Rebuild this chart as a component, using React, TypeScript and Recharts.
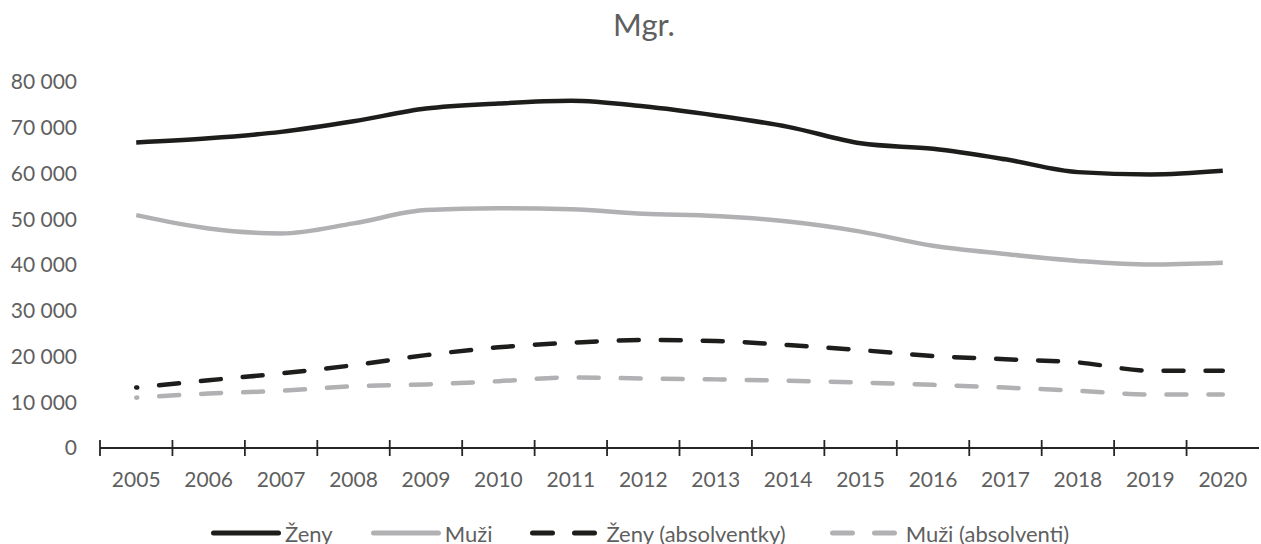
import React from "react";
import { LineChart, Line, XAxis, YAxis, Legend } from "recharts";

const years = [2005, 2006, 2007, 2008, 2009, 2010, 2011, 2012, 2013, 2014, 2015, 2016, 2017, 2018, 2019, 2020];
const zeny = [66800, 67700, 69100, 71400, 74200, 75300, 75900, 74700, 72700, 70200, 66600, 65400, 63100, 60300, 59800, 60600];
const muzi = [50900, 48000, 46900, 49100, 52000, 52400, 52200, 51200, 50700, 49500, 47300, 44200, 42400, 40900, 40100, 40500];
const zenyAbs = [13200, 14800, 16300, 18100, 20300, 22000, 23000, 23600, 23400, 22500, 21400, 20100, 19400, 18700, 16900, 16900];
const muziAbs = [11000, 11900, 12500, 13500, 13900, 14600, 15400, 15200, 15000, 14700, 14300, 13800, 13200, 12500, 11700, 11700];
const yTicks = [0, 10000, 20000, 30000, 40000, 50000, 60000, 70000, 80000];

const FONT = "Lato, 'Open Sans', sans-serif";
const TEXT = "#5f5f5f";
const BLACK = "#1d1d1b";
const GRAY = "#b1b1b4";
const AXIS = "#262626";
const DASH = "20 22";

const data = years.map((year, i) => ({
  year,
  zeny: zeny[i],
  muzi: muzi[i],
  zenyAbs: zenyAbs[i],
  muziAbs: muziAbs[i],
}));

// labels on the years, tick marks between them
const xTicks: number[] = [];
years.forEach((y) => {
  xTicks.push(y - 0.5, y);
});

const legendItems = [
  { label: "Ženy", color: BLACK, dashed: false },
  { label: "Muži", color: GRAY, dashed: false },
  { label: "Ženy (absolventky)", color: BLACK, dashed: true },
  { label: "Muži (absolventi)", color: GRAY, dashed: true },
];

const fmt = (v: number) => (v === 0 ? "0" : `${Math.floor(v / 1000)} ${String(v % 1000).padStart(3, "0")}`);

function XTick(props: any) {
  const { x, y, payload } = props;
  const v = payload.value as number;
  if (Number.isInteger(v)) {
    return (
      <text x={x} y={y + 39} textAnchor="middle" fill={TEXT} fontSize={21} fontFamily={FONT}>
        {v}
      </text>
    );
  }
  return <line x1={x} x2={x} y1={y - 8} y2={y + 8} stroke={AXIS} strokeWidth={1.8} />;
}

function LegendContent() {
  return (
    <div
      style={{
        display: "flex",
        justifyContent: "flex-start",
        alignItems: "center",
        boxSizing: "border-box",
        paddingLeft: 211,
        height: 26,
        fontFamily: FONT,
        fontSize: 22,
        color: TEXT,
      }}
    >
      {legendItems.map((it, i) => (
        <div key={it.label} style={{ display: "flex", alignItems: "center", marginLeft: i === 0 ? 0 : i === 3 ? 44 : 38 }}>
          <svg width={70} height={10}>
            <line
              x1={2.5}
              x2={67.5}
              y1={5}
              y2={5}
              stroke={it.color}
              strokeWidth={5}
              strokeLinecap="round"
              strokeDasharray={it.dashed ? DASH : undefined}
            />
          </svg>
          <span style={{ marginLeft: it.dashed ? 6 : 4, whiteSpace: "nowrap" }}>{it.label}</span>
        </div>
      ))}
    </div>
  );
}

export default function App() {
  return (
    <div style={{ position: "absolute", left: 0, top: 0, width: 1261, height: 544, background: "#fff" }}>
      <div
        style={{
          position: "absolute",
          left: 0,
          top: 9,
          width: 1288,
          textAlign: "center",
          fontFamily: FONT,
          fontSize: 31,
          lineHeight: "31px",
          color: TEXT,
        }}
      >
        Mgr.
      </div>
      <LineChart width={1261} height={544} data={data} margin={{ top: 82, right: 2, bottom: 36, left: 0 }}>
        <XAxis
          dataKey="year"
          type="number"
          domain={[2004.5, 2020.5]}
          ticks={xTicks}
          interval={0}
          tick={<XTick />}
          tickLine={false}
          tickSize={0}
          tickMargin={0}
          axisLine={{ stroke: AXIS, strokeWidth: 2 }}
          height={60}
          allowDataOverflow
        />
        <YAxis
          domain={[0, 80000]}
          ticks={yTicks}
          interval={0}
          width={100}
          tickSize={0}
          tickMargin={23}
          axisLine={false}
          tickLine={false}
          tickFormatter={fmt}
          tick={{ fill: TEXT, fontSize: 21, fontFamily: FONT }}
        />
        <Legend
          verticalAlign="middle"
          align="center"
          layout="horizontal"
          content={<LegendContent />}
          wrapperStyle={{ top: 520, left: 0, width: 1261 }}
        />
        <Line type="monotone" dataKey="zeny" stroke={BLACK} strokeWidth={4.5} dot={false} isAnimationActive={false} />
        <Line type="monotone" dataKey="muzi" stroke={GRAY} strokeWidth={4.5} dot={false} isAnimationActive={false} />
        <Line
          type="monotone"
          dataKey="zenyAbs"
          stroke={BLACK}
          strokeWidth={4.5}
          strokeDasharray={DASH}
          strokeDashoffset={19}
          strokeLinecap="round"
          dot={false}
          isAnimationActive={false}
        />
        <Line
          type="monotone"
          dataKey="muziAbs"
          stroke={GRAY}
          strokeWidth={4.5}
          strokeDasharray={DASH}
          strokeDashoffset={19}
          strokeLinecap="round"
          dot={false}
          isAnimationActive={false}
        />
      </LineChart>
    </div>
  );
}
